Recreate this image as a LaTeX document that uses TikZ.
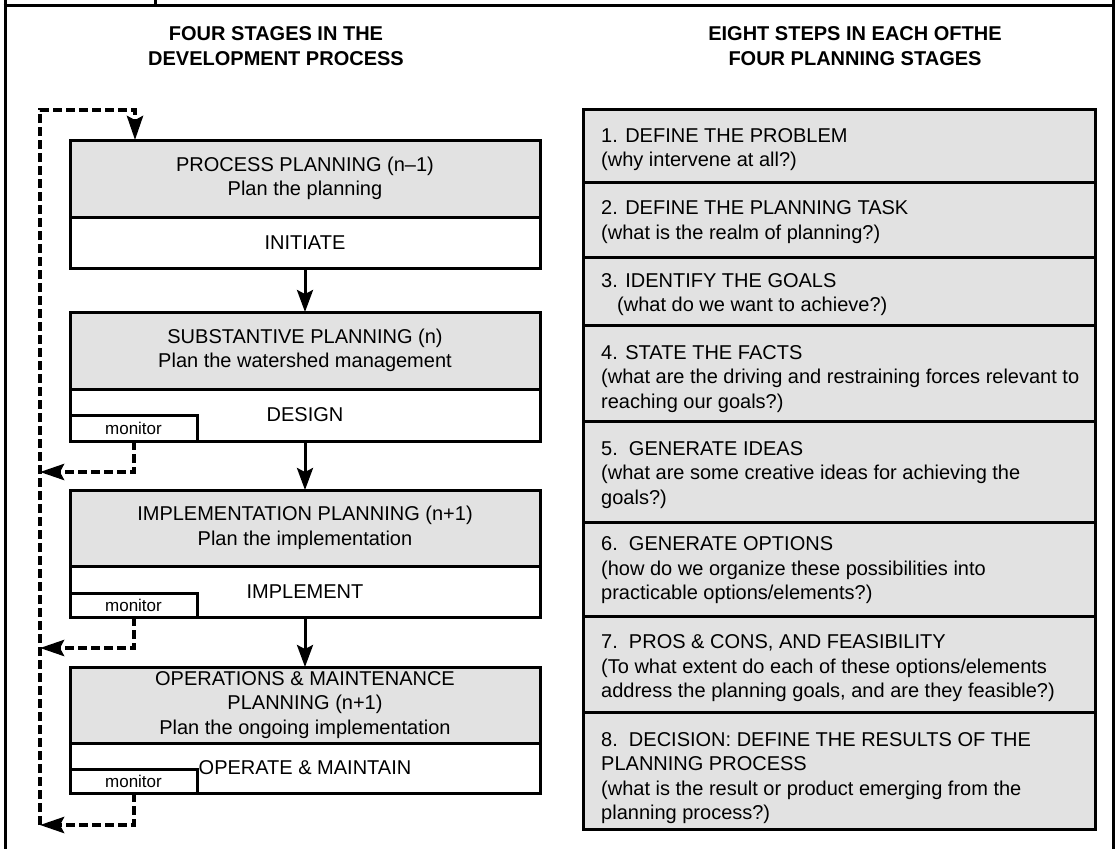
\documentclass[tikz,border=0pt]{standalone}
\usepackage{fontspec}
\setmainfont{Liberation Sans}
\usetikzlibrary{arrows.meta}
\definecolor{boxgray}{RGB}{226,226,226}
\begin{document}
\begin{tikzpicture}[x=1pt,y=-1pt,
  frame/.style={line width=3pt},
  boxline/.style={draw, line width=3pt, inner sep=0pt, outer sep=0pt, anchor=north west},
  graybox/.style={boxline, fill=boxgray, minimum width=470pt, align=center, font=\fontsize{20}{24.5}\selectfont},
  whitebox/.style={boxline, fill=white, minimum width=470pt, font=\fontsize{20}{24.5}\selectfont},
  monbox/.style={boxline, fill=white, minimum width=127pt, minimum height=26pt, font=\fontsize{17}{20}\selectfont},
  stepbox/.style={boxline, fill=boxgray, minimum width=512pt},
  steptext/.style={anchor=north west, inner sep=0pt, align=left, font=\fontsize{20}{24.5}\selectfont},
  heading/.style={align=center, inner sep=0pt, font=\bfseries\fontsize{20}{24.5}\selectfont},
  flow/.style={line width=3pt, -{Stealth[length=22pt,width=16pt,inset=4pt]}},
  fb/.style={line width=4pt, dash pattern=on 9pt off 4pt, line join=miter},
  fbarrow/.style={fb, -{Stealth[length=24pt,width=16pt,inset=4pt]}}
]
\useasboundingbox (0,0) rectangle (1118,849);
\fill[white] (0,0) rectangle (1118,849);

% outer frame
\draw[frame] (5,0) -- (5,849);
\draw[frame] (1113,0) -- (1113,849);
\draw[frame] (3.5,5) -- (1114.5,5);
\draw[frame] (155,0) -- (155,5);

% headings
\node[heading] (hl) at (276,46) {FOUR STAGES IN THE\\DEVELOPMENT PROCESS};
\node[heading] (hr) at (855,46) {EIGHT STEPS IN EACH OFTHE\\FOUR PLANNING STAGES};

% left column: stages
\node[graybox, minimum height=77pt] (p1) at (70,140) {PROCESS PLANNING (n–1)\\Plan the planning};
\node[whitebox, minimum height=51pt] (w1) at (70,217) {INITIATE};

\node[graybox, minimum height=77pt] (p2) at (70,312) {SUBSTANTIVE PLANNING (n)\\Plan the watershed management};
\node[whitebox, minimum height=52pt] (w2) at (70,389) {DESIGN};
\node[monbox] (m1) at (70,415) {monitor};

\node[graybox, minimum height=76pt] (p3) at (70,490) {IMPLEMENTATION PLANNING (n+1)\\Plan the implementation};
\node[whitebox, minimum height=51pt] (w3) at (70,566) {IMPLEMENT};
\node[monbox, minimum height=24pt] (m2) at (70,593) {monitor};

\node[graybox, minimum height=76pt] (p4) at (70,667) {OPERATIONS \& MAINTENANCE\\PLANNING (n+1)\\Plan the ongoing implementation};
\node[whitebox, minimum height=50pt] (w4) at (70,743) {OPERATE \& MAINTAIN};
\node[monbox, minimum height=24pt] (m3) at (70,769) {monitor};

% solid flow arrows
\draw[flow] (w1.south) -- (p2.north);
\draw[flow] (w2.south) -- (p3.north);
\draw[flow] (w3.south) -- (p4.north);

% dashed feedback
\coordinate (f1) at (40,472);
\coordinate (f2) at (40,648);
\coordinate (f3) at (40,825);
\coordinate (c1) at (40,110);
\coordinate (c2) at (135,110);
\draw[fbarrow] (m1.south) |- (f1);
\draw[fbarrow] (m2.south) |- (f2);
\draw[fbarrow] (m3.south) |- (f3);
\draw[fbarrow] (f3) -- (c1) -- (c2) -- (c2 |- p1.north);

% right column: steps
\node[stepbox, minimum height=73pt] (s1) at (583,109) {};
\node[stepbox, minimum height=75pt] (s2) at (583,182) {};
\node[stepbox, minimum height=68pt] (s3) at (583,257) {};
\node[stepbox, minimum height=96pt] (s4) at (583,325) {};
\node[stepbox, minimum height=101pt] (s5) at (583,421) {};
\node[stepbox, minimum height=94pt] (s6) at (583,522) {};
\node[stepbox, minimum height=96.5pt] (s7) at (583,616) {};
\node[stepbox, minimum height=117pt] (s8) at (583,712.5) {};

\node[steptext] (t1) at (601,125) {\strut 1. DEFINE THE PROBLEM\\(why intervene at all?)};
\node[steptext] (t2) at (601,197.3) {\strut 2. DEFINE THE PLANNING TASK\\(what is the realm of planning?)};
\node[steptext] (t3) at (601,270) {\strut 3. IDENTIFY THE GOALS\\\hspace*{16pt}(what do we want to achieve?)};
\node[steptext] (t4) at (601,341.7) {\strut 4. STATE THE FACTS\\(what are the driving and restraining forces relevant to\\reaching our goals?)};
\node[steptext] (t5) at (601,437.7) {\strut 5.\ \ GENERATE IDEAS\\(what are some creative ideas for achieving the\\goals?)};
\node[steptext] (t6) at (601,533.3) {\strut 6.\ \ GENERATE OPTIONS\\(how do we organize these possibilities into\\practicable options/elements?)};
\node[steptext] (t7) at (601,631.4) {\strut 7.\ \ PROS \& CONS, AND FEASIBILITY\\(To what extent do each of these options/elements\\address the planning goals, and are they feasible?)};
\node[steptext] (t8) at (601,729) {\strut 8.\ \ DECISION: DEFINE THE RESULTS OF THE\\PLANNING PROCESS\\(what is the result or product emerging from the\\planning process?)};
\end{tikzpicture}
\end{document}
